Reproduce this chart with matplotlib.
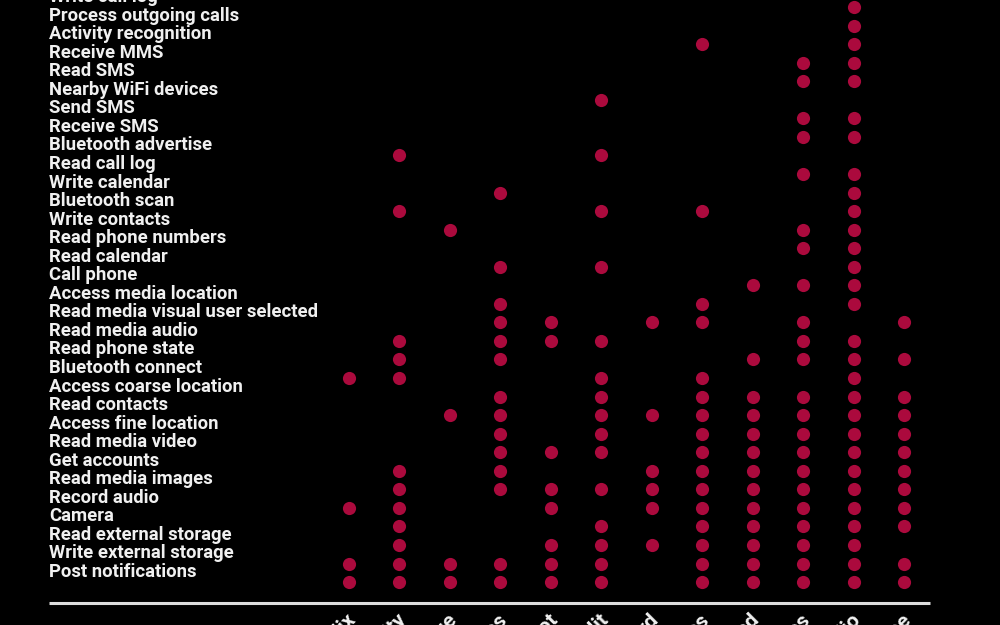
import matplotlib.pyplot as plt
import matplotlib.transforms as mtransforms

plt.rcParams['font.family'] = ['Roboto', 'DejaVu Sans']

# apps along the bottom (only the tail of each name shows, the rest is cropped)
apps = ["Netflix", "Security", "Edge", "Notes", "Copilot", "Reddit",
        "Discord", "Messages", "Snapseed", "Files", "Radio", "Phone"]

# permissions, top to bottom
permissions = [
    "Write call log", "Process outgoing calls", "Activity recognition",
    "Receive MMS", "Read SMS", "Nearby WiFi devices", "Send SMS",
    "Receive SMS", "Bluetooth advertise", "Read call log", "Write calendar",
    "Bluetooth scan", "Write contacts", "Read phone numbers", "Read calendar",
    "Call phone", "Access media location", "Read media visual user selected",
    "Read media audio", "Read phone state", "Bluetooth connect",
    "Access coarse location", "Read contacts", "Access fine location",
    "Read media video", "Get accounts", "Read media images", "Record audio",
    "Camera", "Read external storage", "Write external storage",
    "Post notifications",
]

# which apps (column index) request each permission
requested = [
    [10], [10], [7, 10], [9, 10], [9, 10], [5], [9, 10], [9, 10],
    [1, 5], [9, 10], [3, 10], [1, 5, 7, 10], [2, 9, 10], [9, 10],
    [3, 5, 10], [8, 9, 10], [3, 7, 10],
    [3, 4, 6, 7, 9, 11],
    [1, 3, 4, 5, 9, 10],
    [1, 3, 8, 9, 10, 11],
    [0, 1, 5, 7, 10],
    [3, 5, 7, 8, 9, 10, 11],
    [2, 3, 5, 6, 7, 8, 9, 10, 11],
    [3, 5, 7, 8, 9, 10, 11],
    [3, 4, 5, 7, 8, 9, 10, 11],
    [1, 3, 6, 7, 8, 9, 10, 11],
    [1, 3, 4, 5, 6, 7, 8, 9, 10, 11],
    [0, 1, 4, 6, 7, 8, 9, 10, 11],
    [1, 5, 7, 8, 9, 10, 11],
    [1, 4, 5, 6, 7, 8, 9, 10],
    [0, 1, 2, 3, 4, 5, 7, 8, 9, 10, 11],
    [0, 1, 2, 3, 4, 5, 7, 8, 9, 10, 11],
]

dot_color = "#ab0a3d"
text_color = "#f0f0f0"

fig = plt.figure(figsize=(10, 6.25), dpi=100, facecolor="black")
ax = fig.add_axes([0, 0, 1, 1])
ax.set_facecolor("black")

xs, ys = [], []
for row, cols in enumerate(requested):
    for c in cols:
        xs.append(c)
        ys.append(row)
ax.scatter(xs, ys, s=90, color=dot_color, linewidths=0, zorder=3)

# pixel-ish scale: column step ~50.45px, row step ~18.55px
col_px, row_px = 50.45, 18.55
ax.set_xlim(-349 / col_px, (1000 - 349) / col_px)
ax.set_ylim((625 - 7) / row_px, -7 / row_px)
ax.axis("off")

label_x = (49 - 349) / col_px
lift = mtransforms.offset_copy(ax.transData, fig=fig, x=0, y=5, units="dots")
for row, name in enumerate(permissions):
    ax.text(label_x, row, name, transform=lift, ha="left", va="baseline",
            color=text_color, fontsize=13.3, fontweight="bold")

# baseline rule under the grid
rule_y = len(permissions) - 1 + 1.13
ax.plot([label_x, (930 - 349) / col_px], [rule_y, rule_y],
        color="#dddddd", lw=2.2, solid_capstyle="butt")

# app names, rotated and running off the bottom edge
name_y = len(permissions) - 1 + 1.85
for i, app in enumerate(apps):
    ax.text(i + 0.08, name_y, app, rotation=45, rotation_mode="anchor",
            ha="right", va="center", color=text_color,
            fontsize=15, fontweight="bold")

fig.savefig("out.png", dpi=100, facecolor="black")
